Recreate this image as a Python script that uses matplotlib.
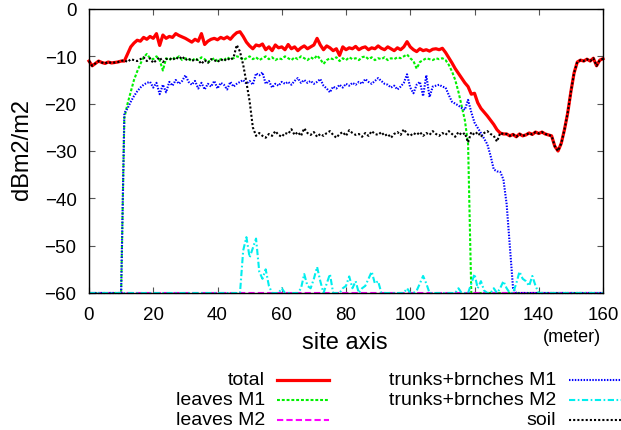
import matplotlib
matplotlib.use("Agg")
import matplotlib.pyplot as plt
from matplotlib.lines import Line2D

# site position along the transect (meter), one sample per meter
site = list(range(0, 161))

total = [
    -11.0, -12.0, -11.5, -11.0, -11.3, -11.5, -11.2, -11.4, -11.3, -11.2,
    -11.0, -11.0, -9.5, -8.0, -7.2, -6.6, -6.8, -6.0, -6.4, -5.8,
    -6.2, -5.2, -7.7, -5.5, -6.2, -5.8, -6.0, -5.2, -5.6, -5.9,
    -6.2, -6.6, -7.0, -6.4, -6.8, -5.2, -7.5, -6.8, -6.4, -6.2,
    -6.5, -6.0, -6.3, -5.9, -6.4, -5.6, -5.0, -4.8, -5.8, -7.0,
    -7.8, -8.4, -7.6, -7.8, -7.4, -8.6, -8.0, -8.8, -7.6, -8.2,
    -8.0, -8.6, -7.5, -8.4, -8.0, -8.8, -8.2, -7.8, -8.4, -8.0,
    -7.6, -6.2, -7.6, -8.6, -7.8, -8.2, -8.8, -8.4, -9.8, -8.0,
    -8.6, -8.2, -8.4, -7.9, -8.6, -8.2, -8.0, -8.6, -8.2, -8.4,
    -7.8, -8.3, -8.6, -8.0, -8.4, -8.8, -8.2, -8.6, -8.0, -6.9,
    -8.0, -8.6, -9.0, -8.4, -8.8, -8.6, -8.9, -8.5, -8.4, -8.6,
    -8.3, -9.2, -10.3, -11.4, -12.6, -13.6, -14.6, -15.6, -16.4, -18.0,
    -17.8, -19.8, -21.0, -21.8, -22.6, -23.5, -24.4, -25.5, -26.2, -26.4,
    -26.4, -26.8, -26.5, -27.0, -26.4, -26.8, -26.6, -26.2, -26.5, -26.0,
    -26.3, -26.0, -26.4, -26.6, -26.8, -29.0, -30.0, -28.4, -25.5, -22.0,
    -17.5, -13.5, -11.2, -10.8, -11.0, -10.6, -11.0, -10.4, -12.0, -10.8,
    -10.5,
]

leaves_m1 = [-60.0] * 11 + [
    -23.0, -20.0, -17.5, -15.0, -13.2, -11.6, -10.2, -9.5, -10.4,
    -10.6, -10.0, -10.8, -13.0, -10.4, -10.8, -10.2, -10.6, -10.0, -10.8,
    -10.4, -10.6, -11.0, -10.4, -10.8, -10.2, -10.6, -11.2, -10.8, -10.4,
    -11.0, -10.6, -10.8, -10.2, -10.6, -10.4, -10.0, -10.2, -10.8, -10.4,
    -10.0, -10.6, -10.2, -10.8, -10.4, -10.0, -10.6, -10.2, -10.8, -10.4,
    -10.6, -10.0, -10.4, -10.8, -10.2, -10.6, -10.0, -10.4, -10.8, -10.2,
    -10.6, -9.8, -10.6, -11.6, -10.8, -10.4, -10.6, -10.2, -11.0, -10.4,
    -10.8, -10.2, -10.6, -10.4, -10.8, -10.2, -10.0, -10.6, -10.2, -10.8,
    -10.4, -10.6, -10.2, -10.8, -10.4, -10.6, -10.2, -10.4, -10.0, -9.6,
    -10.4, -11.0, -12.6, -11.2, -10.8, -10.4, -10.6, -10.8, -10.4, -10.6,
    -10.4, -10.8, -11.8, -13.2, -15.0, -17.5, -20.5, -23.5, -28.5,
] + [-60.0] * 42

leaves_m2 = [-60.0] * 161

trunks_m1 = [-60.0] * 11 + [
    -22.0, -21.0, -19.6, -18.4, -17.4, -16.6, -16.0, -15.6, -15.4,
    -16.6, -15.6, -18.0, -16.0, -17.6, -15.4, -16.2, -15.0, -15.8, -15.2,
    -14.0, -15.4, -16.0, -15.2, -16.8, -15.6, -17.0, -15.8, -16.4, -15.2,
    -16.8, -15.6, -16.0, -17.0, -15.4, -16.4, -15.8, -15.4, -15.0, -15.8,
    -15.2, -16.0, -13.6, -14.0, -13.4, -15.8, -15.2, -16.6, -15.8, -16.2,
    -15.4, -15.8, -15.4, -16.0, -15.2, -14.6, -15.6, -15.0, -15.6, -15.2,
    -15.8, -15.4, -14.8, -16.2, -16.8, -17.6, -16.4, -16.8, -16.0, -16.6,
    -15.8, -16.2, -15.6, -16.0, -15.4, -15.8, -14.8, -15.4, -15.8, -15.2,
    -14.6, -15.2, -15.8, -16.0, -16.6, -16.2, -17.0, -16.4, -15.6, -13.8,
    -16.6, -17.8, -16.0, -15.4, -18.4, -14.0, -18.6, -16.4, -16.2, -16.0,
    -16.4, -16.6, -18.2, -19.6, -20.0, -20.4, -20.9, -21.3, -19.2, -21.8,
    -24.0, -25.1, -26.2, -27.4, -28.6, -31.0, -33.9, -34.3, -34.4, -36.0,
    -41.2, -50.0, -59.0,
] + [-60.0] * 28

trunks_m2 = [-60.0] * 48 + [
    -51.0, -48.2,
    -52.5, -50.5, -48.5, -55.5, -57.0, -55.0, -58.5, -60.0, -60.0, -60.0,
    -59.0, -60.0, -60.0, -60.0, -60.0, -60.0, -59.0, -56.0, -58.5, -59.0,
    -57.0, -54.5, -57.5, -60.0, -58.0, -56.0, -60.0, -60.0, -60.0, -59.0,
    -58.5, -56.5, -59.0, -57.5, -60.0, -59.0, -58.5, -57.0, -55.5, -58.0,
    -57.5, -60.0, -60.0, -60.0, -60.0, -60.0, -60.0, -60.0, -60.0, -59.0,
    -60.0, -60.0, -59.5, -58.0, -56.4, -58.0, -60.0, -60.0, -60.0, -60.0,
    -60.0, -60.0, -60.0, -60.0, -60.0, -59.0, -60.0, -60.0, -60.0, -58.0,
    -56.0, -59.0, -57.5, -59.5, -60.0, -60.0, -59.0, -60.0, -59.0, -57.5,
    -59.0, -60.0, -60.0, -58.0, -55.5, -57.0, -57.5, -58.5, -56.4, -58.5,
] + [-60.0] * 21

soil = [
    -11.0, -12.0, -11.5, -11.0, -11.3, -11.5, -11.2, -11.4, -11.3, -11.2,
    -11.0, -10.8, -11.2, -10.6, -10.8, -11.0, -10.6, -10.2, -11.0, -10.4,
    -11.4, -10.8, -10.2, -11.2, -10.6, -10.4, -10.8, -10.2, -10.6, -10.0,
    -10.8, -10.4, -11.0, -10.6, -10.8, -11.6, -10.8, -11.4, -10.6, -10.8,
    -11.2, -10.6, -11.0, -10.4, -10.8, -10.2, -7.6, -9.0, -11.8, -15.5,
    -19.5, -25.0, -26.8, -26.2, -26.8, -27.2, -26.4, -26.8, -25.8, -26.6,
    -27.0, -26.2, -26.4, -25.4, -26.6, -26.0, -26.8, -25.2, -26.2, -26.6,
    -26.0, -27.0, -26.4, -26.8, -26.2, -25.8, -26.6, -27.2, -26.4, -26.0,
    -26.8, -25.6, -26.2, -26.6, -26.4, -27.0, -26.2, -26.8, -25.8, -26.4,
    -26.6, -26.0, -26.8, -26.4, -27.2, -26.4, -26.0, -26.6, -25.4, -26.4,
    -26.8, -26.2, -26.6, -26.0, -26.8, -26.2, -26.6, -25.8, -26.4, -26.8,
    -26.2, -26.6, -25.8, -26.4, -27.0, -26.0, -26.6, -26.2, -28.2, -26.0,
    -26.6, -26.0, -27.0, -26.2, -25.8, -26.4, -26.8, -28.0, -26.2, -26.4,
    -26.4, -26.8, -26.5, -27.0, -26.4, -26.8, -26.6, -26.2, -26.5, -26.0,
    -26.3, -26.0, -26.4, -26.6, -26.8, -29.0, -30.0, -28.4, -25.5, -22.0,
    -17.5, -13.5, -11.2, -10.8, -11.0, -10.6, -11.0, -10.4, -12.0, -10.8,
    -10.5,
]

labels = ["total", "leaves M1", "leaves M2",
          "trunks+brnches M1", "trunks+brnches M2", "soil"]

x_ticks = [0, 20, 40, 60, 80, 100, 120, 140, 160]
y_ticks = [0, -10, -20, -30, -40, -50, -60]

W, H = 621, 431


def fx(px):
    return px / W


def fy(py):
    return 1 - py / H


def main():
    plt.rcParams['font.family'] = ['Liberation Sans', 'DejaVu Sans']

    fig = plt.figure(figsize=(W / 100, H / 100), dpi=100)
    ax = fig.add_axes([fx(89), fy(294), fx(603) - fx(89), fy(10) - fy(294)])

    series = [total, leaves_m1, leaves_m2, trunks_m1, trunks_m2, soil]
    styles = [
        dict(color="#ff0000", lw=2.3, ls="-"),
        dict(color="#00f000", lw=1.5, dashes=(1.4, 0.9)),
        dict(color="#ff00ff", lw=1.5, dashes=(3.0, 1.5)),
        dict(color="#0000ff", lw=1.5, dashes=(0.7, 0.7)),
        dict(color="#00eeee", lw=1.5, dashes=(3.0, 1.2, 0.8, 1.2)),
        dict(color="#000000", lw=1.5, dashes=(1.0, 1.0)),
    ]
    for vals, st in zip(series, styles):
        ax.plot(site, vals, clip_on=False, **st)

    ax.set_xlim(0, 160)
    ax.set_ylim(-60, 0)
    ax.set_xticks(x_ticks)
    ax.set_yticks(y_ticks)
    ax.tick_params(direction="in", top=True, right=True, length=4,
                   width=0.8, labelsize=13.5, color="#555555")
    ax.tick_params(axis="x", pad=9)
    ax.tick_params(axis="y", pad=9)
    for sp in ax.spines.values():
        sp.set_linewidth(1.0)

    fig.text(fx(345), fy(343), "site axis", ha="center", va="center", fontsize=17)
    fig.text(fx(572), fy(338), "(meter)", ha="center", va="center", fontsize=13)
    fig.text(fx(22), fy(150), "dBm2/m2", ha="center", va="center",
             rotation=90, fontsize=17)

    # legend, gnuplot style: right aligned text, sample line after it
    rows = [381, 401, 421]
    for i, (lab, st) in enumerate(zip(labels, styles)):
        col, row = divmod(i, 3)
        tx = [265, 556][col]
        lx = [277, 569][col]
        y = rows[row]
        fig.text(fx(tx), fy(y), lab, ha="right", va="center", fontsize=14)
        fig.add_artist(Line2D([fx(lx), fx(lx + 52)], [fy(y), fy(y)],
                              transform=fig.transFigure, **st))

    fig.savefig("out.png", dpi=100)


if __name__ == '__main__':
    main()
